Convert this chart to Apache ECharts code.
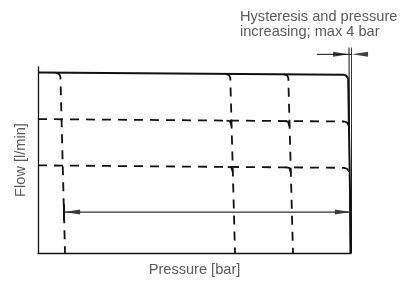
<!DOCTYPE html>
<html><head><meta charset="utf-8">
<script src="https://cdn.jsdelivr.net/npm/echarts@6/dist/echarts.min.js"></script>
<style>html,body{margin:0;padding:0;background:#fff}#c{width:410px;height:282px}</style>
</head><body><div id="c"></div>
<script>
// Axis units: pressure 0..100 (% of max), flow 0..100 (% of max)
const maxFlowCurve = [[0,97.0],[97.44,95.9],[98.4,95.5],[98.9,94.8],[99.1,93.7],[100,0]];
const flowLevel2Curve = [[0,72.0],[97.76,70.7],[98.72,70.2],[99.2,68.8],[99.4,67.0]];
const flowLevel3Curve = [[0,47.1],[97.76,45.8],[98.72,45.3],[99.3,44.0],[99.5,41.9]];
const pressureCurve1 = [[5.75,96.9],[6.7,96.3],[7.16,94.8],[8.63,0]];
const pressureCurve2 = [[60.06,96.2],[61.0,95.8],[61.44,94.2],[62.94,0]];
const pressureCurve3 = [[78.6,96.0],[79.55,95.65],[79.97,94.1],[81.47,0]];
const kneeMarks = [
  [[60.22,71.15],[61.34,70.89],[61.79,69.90],[61.85,68.32]],
  [[78.75,70.94],[79.87,70.68],[80.32,69.63],[80.38,68.06]],
  [[60.61,46.28],[61.76,46.02],[62.20,45.03],[62.27,43.46]],
  [[79.14,46.02],[80.29,45.76],[80.73,44.76],[80.80,43.19]]
];
const hysteresisLines = [
  [[99.36,110.5],[99.68,0]],
  [[100.22,110.5],[100.16,0]]
];
const hysteresisDim = [[89.1,106.8],[118.8,106.8]];
const hysteresisArrows = [[96.8,106.8,-90],[102.9,106.8,90]];
const rangeLine = [[8.3,22.0],[100,22.0]];
const rangeStop = [[8.3,26.2],[8.3,17.3]];
const rangeArrows = [[10.9,22.0,90],[97.4,22.0,-90]];
const annotation = 'Hysteresis and pressure\nincreasing; max 4 bar';
const xName = 'Pressure [bar]';
const yName = 'Flow [l/min]';

const FONT = 'Liberation Sans';
const TXT = '#5a5a5a';
const FS = 14.6;
function line(data, opts) {
  return Object.assign({
    type: 'line', data: data, symbol: 'none', clip: false, silent: true,
    animation: false,
    lineStyle: { color: '#111', width: 1.8 }
  }, opts || {});
}
function dashed(data) {
  return line(data, { lineStyle: { color: '#111', width: 1.8, type: [9, 7] } });
}
function arrows(data) {
  return {
    type: 'scatter', clip: false, silent: true, animation: false,
    data: data.map(d => ({ value: [d[0], d[1]], symbolRotate: d[2] })),
    symbol: 'triangle', symbolSize: [5, 16],
    itemStyle: { color: '#111' }
  };
}
const series = [
  line(maxFlowCurve, { lineStyle: { color: '#111', width: 2 } }),
  dashed(flowLevel2Curve),
  dashed(flowLevel3Curve),
  dashed(pressureCurve1),
  dashed(pressureCurve2),
  dashed(pressureCurve3)
];
kneeMarks.forEach(k => series.push(line(k, { lineStyle: { color: '#111', width: 1.8 } })));
hysteresisLines.forEach(h => series.push(line(h, { lineStyle: { color: '#111', width: 1 } })));
series.push(line(hysteresisDim, { lineStyle: { color: '#111', width: 1 } }));
series.push(arrows(hysteresisArrows));
series.push(line(rangeLine, { lineStyle: { color: '#333', width: 1.2 } }));
series.push(line(rangeStop, { lineStyle: { color: '#111', width: 2 } }));
series.push(arrows(rangeArrows));

const chart = echarts.init(document.getElementById('c'), null, { renderer: 'canvas' });
chart.setOption({
  animation: false,
  backgroundColor: '#fff',
  title: {
    text: annotation, left: 235, top: 4,
    textStyle: { fontFamily: FONT, fontSize: FS, lineHeight: 15, fontWeight: 'normal', color: TXT }
  },
  grid: { left: 38, right: 59, top: 67, bottom: 24 },
  xAxis: {
    type: 'value', min: 0, max: 100,
    axisLine: { show: true, lineStyle: { color: '#111', width: 1.3 } },
    axisTick: { show: false }, axisLabel: { show: false }, splitLine: { show: false },
    name: xName, nameLocation: 'middle', nameGap: 9,
    nameTextStyle: { fontFamily: FONT, fontSize: FS, color: TXT, verticalAlign: 'top' }
  },
  yAxis: {
    type: 'value', min: 0, max: 100,
    axisLine: { show: true, lineStyle: { color: '#111', width: 1.3 } },
    axisTick: { show: false }, axisLabel: { show: false }, splitLine: { show: false },
    name: yName, nameLocation: 'middle', nameGap: 10,
    nameTextStyle: { fontFamily: FONT, fontSize: FS, color: TXT }
  },
  series: series
});
</script></body></html>
